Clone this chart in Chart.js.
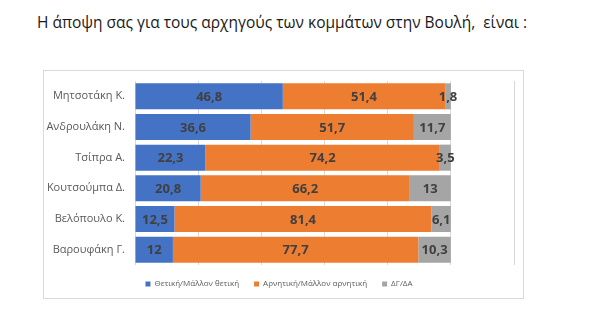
<!DOCTYPE html>
<html lang="el">
<head>
<meta charset="utf-8">
<script src="https://cdn.jsdelivr.net/npm/chart.js@4"></script>
<style>
  html, body { margin: 0; padding: 0; background: #fff; }
  body { width: 600px; height: 323px; position: relative; overflow: hidden; font-family: "Open Sans", sans-serif; }
  #titlos { position: absolute; left: 37px; top: 11px; font-size: 15.5px; color: #1a1a1a; white-space: pre; }
  #plaisio { position: absolute; left: 43px; top: 70px; width: 481px; height: 229px; border: 1px solid #d9d9d9; box-sizing: border-box; }
  #plaisio canvas { position: absolute; left: 0; top: 0; }
</style>
</head>
<body>
<div id="titlos">Η άποψη σας για τους αρχηγούς των κομμάτων στην Βουλή,  είναι :</div>
<div id="plaisio"><canvas id="grafima" width="479" height="227"></canvas></div>
<script>
// Δεδομένα (ποσοστά %)
const ARCHIGOI = ['Μητσοτάκη Κ.', 'Ανδρουλάκη Ν.', 'Τσίπρα Α.', 'Κουτσούμπα Δ.', 'Βελόπουλο Κ.', 'Βαρουφάκη Γ.'];
const THETIKI  = [46.8, 36.6, 22.3, 20.8, 12.5, 12];
const ARNITIKI = [51.4, 51.7, 74.2, 66.2, 81.4, 77.7];
const DGDA     = [1.8, 11.7, 3.5, 13, 6.1, 10.3];
const ONOMATA_SEIRON = ['Θετική/Μάλλον θετική', 'Αρνητική/Μάλλον αρνητική', 'ΔΓ/ΔΑ'];
const XROMATA = ['#4472c4', '#ed7d31', '#a5a5a5'];

// Ετικέτες τιμών στο κέντρο κάθε τμήματος, με κόμμα δεκαδικών
const etiketes = {
  id: 'etiketes',
  afterDatasetsDraw(chart) {
    const ctx = chart.ctx;
    ctx.save();
    ctx.font = 'bold 13px "Open Sans", sans-serif';
    ctx.fillStyle = '#404040';
    ctx.textAlign = 'center';
    ctx.textBaseline = 'middle';
    chart.data.datasets.forEach((ds, i) => {
      chart.getDatasetMeta(i).data.forEach((bar, j) => {
        const p = bar.getProps(['x', 'y', 'base'], true);
        const keimeno = String(ds.data[j]).replace('.', ',');
        ctx.fillText(keimeno, (p.x + p.base) / 2, p.y + 1);
      });
    });
    ctx.restore();
  }
};

new Chart(document.getElementById('grafima'), {
  type: 'bar',
  data: {
    labels: ARCHIGOI,
    datasets: [THETIKI, ARNITIKI, DGDA].map((d, i) => ({
      label: ONOMATA_SEIRON[i],
      data: d,
      backgroundColor: XROMATA[i],
      borderWidth: 0,
      barPercentage: 0.85,
      categoryPercentage: 1,
    })),
  },
  options: {
    indexAxis: 'y',
    responsive: false,
    animation: false,
    layout: { padding: { top: 10, right: 9, bottom: 0, left: 0 } },
    scales: {
      x: {
        stacked: true, min: 0, max: 120,
        ticks: { display: false, stepSize: 20 },
        grid: { color: '#d9d9d9', drawTicks: false },
        border: { display: false },
      },
      y: {
        stacked: true,
        // πλάτος άξονα σταθερό και χωρίς επιπλέον κενό πάνω/κάτω
        afterFit(s) { s.width = 91; s.paddingTop = 0; s.paddingBottom = 0; },
        ticks: { color: '#595959', font: { family: '"Open Sans", sans-serif', size: 11 }, padding: 10 },
        grid: { display: false, drawTicks: false },
        border: { display: false },
      },
    },
    plugins: {
      legend: {
        position: 'bottom',
        labels: {
          boxWidth: 5, boxHeight: 5, padding: 15,
          color: '#595959',
          font: { family: '"Open Sans", sans-serif', size: 8 },
        },
      },
      tooltip: { enabled: false },
    },
  },
  plugins: [etiketes],
});
</script>
</body>
</html>
